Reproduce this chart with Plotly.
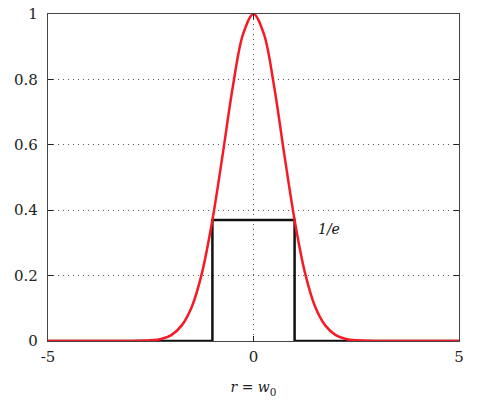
import plotly.graph_objects as go

# Gaussian profile
r_vals = [-5.0, -4.5, -4.0, -3.5, -3.0, -2.75, -2.5, -2.25, -2.0, -1.75, -1.5, -1.25,
          -1.0, -0.75, -0.5, -0.25, 0.0, 0.25, 0.5, 0.75, 1.0, 1.25, 1.5, 1.75,
          2.0, 2.25, 2.5, 2.75, 3.0, 3.5, 4.0, 4.5, 5.0]
gauss_vals = [0.0, 0.0, 0.0, 0.0, 0.0, 0.001, 0.002, 0.006, 0.018, 0.047, 0.105, 0.21,
              0.37, 0.57, 0.78, 0.94, 1.0, 0.94, 0.78, 0.57, 0.37, 0.21, 0.105, 0.047,
              0.018, 0.006, 0.002, 0.001, 0.0, 0.0, 0.0, 0.0, 0.0]

# top-hat of height 1/e
rect_x = [-5, -1, -1, 1, 1, 5]
rect_y = [0, 0, 0.37, 0.37, 0, 0]

y_ticks = [0, 0.2, 0.4, 0.6, 0.8, 1]
y_labels = ["0", "0.2", "0.4", "0.6", "0.8", "1"]
x_ticks = [-5, 0, 5]
x_labels = ["-5", "0", "5"]

serif = "DejaVu Serif"

fig = go.Figure()
fig.add_trace(go.Scatter(x=rect_x, y=rect_y, mode="lines",
                         line=dict(color="#111111", width=2.5)))
fig.add_trace(go.Scatter(x=r_vals, y=gauss_vals, mode="lines", line_shape="spline",
                         line=dict(color="#f41a26", width=2.5)))

fig.add_annotation(x=1.52, y=0.342, text="<i>1/e</i>", showarrow=False,
                   xanchor="left", font=dict(family=serif, size=14, color="#111"))

axis_common = dict(showline=True, linecolor="#444", linewidth=1.2, mirror="allticks",
                   ticks="inside", ticklen=5, tickcolor="#222", automargin=False,
                   showgrid=True, gridcolor="#555", gridwidth=1, griddash="1px,4px",
                   zeroline=False, tickfont=dict(family=serif, size=15, color="#222"))

fig.update_xaxes(range=[-5, 5], tickvals=x_ticks, ticktext=x_labels, ticklabelstandoff=2,
                 title=dict(text="<i>r</i> = <i>w</i><span style='font-size:15px'><sub>0</sub></span>",
                            standoff=17, font=dict(family=serif, size=14, color="#222")),
                 **axis_common)
fig.update_yaxes(range=[0, 1], tickvals=y_ticks, ticktext=y_labels,
                 ticklabelstandoff=6, **axis_common)

fig.update_layout(width=480, height=403, showlegend=False,
                  margin=dict(l=48, r=21, t=14, b=62),
                  plot_bgcolor="white", paper_bgcolor="white")

# drop the default page margin so the figure sits at the window corner
fig.write_html("out.html", config={"displayModeBar": False},
               post_script="document.body.style.margin='0';")
